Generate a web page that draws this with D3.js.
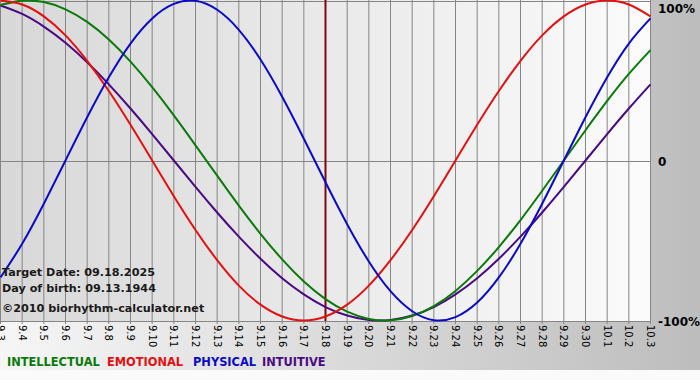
<!DOCTYPE html>
<html>
<head>
<meta charset="utf-8">
<script src="https://cdn.jsdelivr.net/npm/d3@7"></script>
<style>
html,body{margin:0;padding:0;background:#fafafa;}
svg{display:block;}
</style>
</head>
<body>
<svg id="chart" width="700" height="380"></svg>
<script>
// Dates on the x axis
const dates = ["9.3","9.4","9.5","9.6","9.7","9.8","9.9","9.10","9.11","9.12","9.13","9.14","9.15","9.16","9.17","9.18","9.19","9.20","9.21","9.22","9.23","9.24","9.25","9.26","9.27","9.28","9.29","9.30","10.1","10.2","10.3"];
// Series values (-1 .. 1), one per date
const physical = [-0.731,-0.520,-0.270,0,0.270,0.520,0.731,0.888,0.979,0.998,0.942,0.817,0.631,0.398,0.136,-0.136,-0.398,-0.631,-0.817,-0.942,-0.998,-0.979,-0.888,-0.731,-0.520,-0.270,0,0.270,0.520,0.731,0.888];
const emotional = [1,0.975,0.901,0.782,0.623,0.434,0.223,0,-0.223,-0.434,-0.623,-0.782,-0.901,-0.975,-1,-0.975,-0.901,-0.782,-0.623,-0.434,-0.223,0,0.223,0.434,0.623,0.782,0.901,0.975,1,0.975,0.901];
const intellectual = [0.972,0.999,0.990,0.945,0.866,0.756,0.618,0.458,0.282,0.095,-0.095,-0.282,-0.458,-0.618,-0.756,-0.866,-0.945,-0.990,-0.999,-0.972,-0.910,-0.815,-0.690,-0.541,-0.372,-0.189,0,0.189,0.372,0.541,0.690];
const intuitive = [0.969,0.916,0.837,0.736,0.614,0.476,0.325,0.165,0,-0.165,-0.325,-0.476,-0.614,-0.736,-0.837,-0.916,-0.969,-0.997,-0.997,-0.969,-0.916,-0.837,-0.736,-0.614,-0.476,-0.325,-0.165,0,0.165,0.325,0.476];
const seriesNames = ["INTELLECTUAL","EMOTIONAL","PHYSICAL","INTUITIVE"];
const yTickValues = [1, 0, -1];
const yTickLabels = ["100%", "0", "-100%"];
const targetDate = "9.18";
const infoLines = ["Target Date: 09.18.2025", "Day of birth: 09.13.1944", "\u00A92010 biorhythm-calculator.net"];

const colors = {INTELLECTUAL:"#0a7a0a", EMOTIONAL:"#e41010", PHYSICAL:"#0a0ac8", INTUITIVE:"#4a0a82"};
const seriesData = {INTELLECTUAL:intellectual, EMOTIONAL:emotional, PHYSICAL:physical, INTUITIVE:intuitive};

const svg = d3.select("#chart");
const W = 700, H = 380;
const plotL = 0, plotR = 651, plotT = 0, plotB = 321;

const defs = svg.append("defs");
const bgGrad = defs.append("linearGradient").attr("id","bgGrad").attr("x1","0").attr("x2","1").attr("y1","0").attr("y2","0");
bgGrad.append("stop").attr("offset","0").attr("stop-color","#f6f6f6");
bgGrad.append("stop").attr("offset","1").attr("stop-color","#bdbdbd");
const plotGrad = defs.append("linearGradient").attr("id","plotGrad").attr("x1","0").attr("x2","1").attr("y1","0").attr("y2","0");
plotGrad.append("stop").attr("offset","0").attr("stop-color","#d8d8d8");
plotGrad.append("stop").attr("offset","1").attr("stop-color","#fbfbfb");

svg.append("rect").attr("x",0).attr("y",0).attr("width",W).attr("height",370).attr("fill","url(#bgGrad)");
svg.append("rect").attr("x",0).attr("y",370).attr("width",W).attr("height",10).attr("fill","#fafafa");
svg.append("rect").attr("x",plotL).attr("y",plotT).attr("width",plotR-plotL).attr("height",plotB-plotT).attr("fill","url(#plotGrad)");

const x = d3.scalePoint().domain(dates).range([0.5, 650.5]);
const y = d3.scaleLinear().domain([-1, 1]).range([320.5, 0.5]);

// vertical grid
svg.append("g").selectAll("line").data(dates).join("line")
  .attr("x1", d => x(d)).attr("x2", d => x(d))
  .attr("y1", plotT).attr("y2", plotB + 3)
  .attr("stroke", "#858585").attr("stroke-width", 1);
// horizontal lines
svg.append("g").selectAll("line").data(yTickValues).join("line")
  .attr("x1", plotL).attr("x2", plotR)
  .attr("y1", d => Math.round(y(d)) + 0.5).attr("y2", d => Math.round(y(d)) + 0.5)
  .attr("stroke", "#858585").attr("stroke-width", 1);

// x labels rotated
svg.append("g").selectAll("text").data(dates).join("text")
  .attr("transform", d => `translate(${x(d) - 3.5},${plotB + 4}) rotate(90)`)
  .attr("font-family", "DejaVu Sans, Verdana, sans-serif")
  .attr("font-size", 10).attr("fill", "#000")
  .text(d => d);

// y labels on right
svg.append("g").selectAll("text").data(yTickValues).join("text")
  .attr("x", 658).attr("y", d => Math.max(y(d) + 5, 13))
  .attr("font-family", "DejaVu Sans, Verdana, sans-serif")
  .attr("font-weight", "bold").attr("font-size", 12).attr("fill", "#000")
  .text((d, i) => yTickLabels[i]);

// target date line
svg.append("line").attr("x1", x(targetDate)).attr("x2", x(targetDate))
  .attr("y1", plotT).attr("y2", plotB)
  .attr("stroke", "#7a0a0a").attr("stroke-width", 2);

// curves
const line = d3.line().x((d, i) => x(dates[i])).y(d => y(d)).curve(d3.curveNatural);
const clip = defs.append("clipPath").attr("id","clipPlot");
clip.append("rect").attr("x",plotL).attr("y",plotT-2).attr("width",plotR-plotL+1).attr("height",plotB-plotT+3);
const g = svg.append("g").attr("clip-path","url(#clipPlot)");
["INTUITIVE","INTELLECTUAL","EMOTIONAL","PHYSICAL"].forEach(name => {
  g.append("path").datum(seriesData[name])
    .attr("d", line).attr("fill", "none")
    .attr("stroke", colors[name]).attr("stroke-width", 2);
});

// info text
svg.append("g").selectAll("text").data(infoLines).join("text")
  .attr("x", 2).attr("y", (d, i) => [276, 292, 312][i])
  .attr("font-family", "DejaVu Sans, Verdana, sans-serif")
  .attr("font-weight", "bold").attr("font-size", 11.2).attr("fill", "#1a1a1a")
  .text(d => d);

// legend
const legendX = [7, 107, 193, 262];
svg.append("g").selectAll("text").data(seriesNames).join("text")
  .attr("x", (d, i) => legendX[i]).attr("y", 366)
  .attr("font-family", "DejaVu Sans, Verdana, sans-serif")
  .attr("font-weight", "bold").attr("font-size", 11.4)
  .attr("fill", d => colors[d])
  .text(d => d);
</script>
</body>
</html>
